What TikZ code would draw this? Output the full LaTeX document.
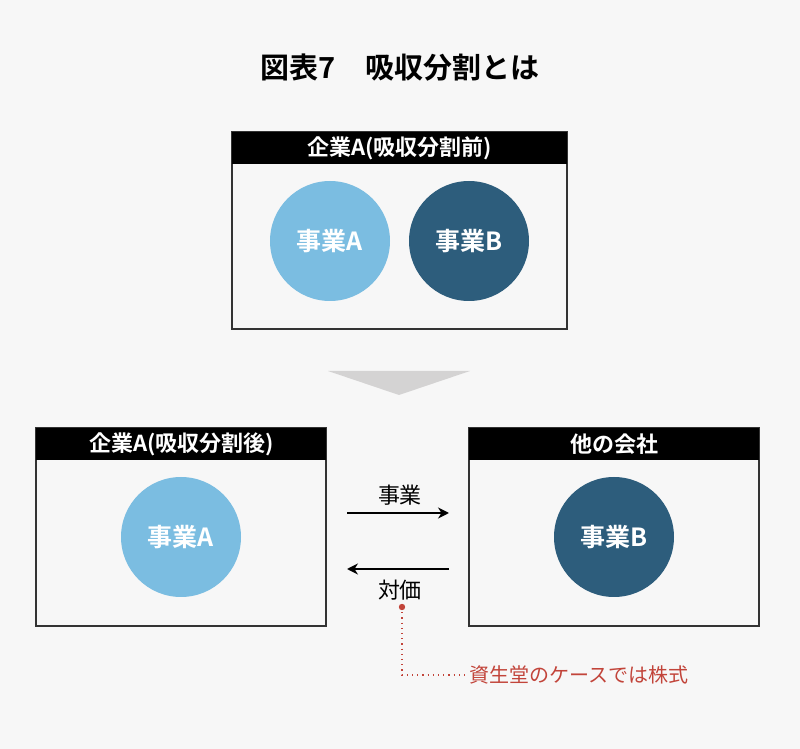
\documentclass[tikz,border=0pt]{standalone}
\usepackage{fontspec}
\setmainfont{Noto Sans CJK JP}[BoldFont={* Bold}]
\usetikzlibrary{arrows.meta}
\definecolor{bg}{HTML}{F7F7F7}
\definecolor{lblue}{HTML}{7BBDE1}
\definecolor{dblue}{HTML}{2D5D7C}
\definecolor{tri}{HTML}{D4D3D3}
\definecolor{note}{HTML}{C2443A}
\definecolor{frame}{HTML}{333333}
\tikzset{
  boxframe/.style={draw=frame, line width=0.8pt, fill=bg},
  header/.style={fill=black, text=white, font=\bfseries\fontsize{11}{13}\selectfont, inner sep=0pt, anchor=north west},
  biz/.style={circle, minimum size=60pt, inner sep=0pt, text=white, font=\bfseries\fontsize{12.5}{14}\selectfont},
  flow/.style={line width=1pt, -{Stealth[length=5.5pt,width=5.5pt]}},
  lbl/.style={font=\fontsize{11}{13}\selectfont, text=black},
}
\begin{document}
\begin{tikzpicture}[x=0.5pt,y=-0.5pt]
\fill[bg] (0,0) rectangle (800,749);
\useasboundingbox (0,0) rectangle (800,749);
% title
\node[font=\bfseries\fontsize{14.5}{16}\selectfont] (title) at (400,68) {図表7　吸収分割とは};
% top box
\draw[boxframe] (232,132) rectangle (567,329);
\node[header, minimum width=167.5pt, minimum height=16pt] (hTop) at (232,132) {企業A(吸収分割前)};
\node[biz, fill=lblue] (topA) at (330,241) {事業A};
\node[biz, fill=dblue] (topB) at (469,241) {事業B};
% triangle
\fill[tri] (328,371) -- (470,371) -- (399,395) -- cycle;
% left box
\draw[boxframe] (36,428) rectangle (326,626);
\node[header, minimum width=145pt, minimum height=16pt] (hLeft) at (36,428) {企業A(吸収分割後)};
\node[biz, fill=lblue] (botA) at (181,537) {事業A};
% right box
\draw[boxframe] (469,428) rectangle (759,626);
\node[header, minimum width=145pt, minimum height=16pt] (hRight) at (469,428) {他の会社};
\node[biz, fill=dblue] (botB) at (614,537) {事業B};
% arrows
\coordinate (a1s) at (347,513);
\coordinate (a1e) at (449,513);
\coordinate (a2s) at (449,569);
\coordinate (a2e) at (347,569);
\draw[flow] (a1s) -- (a1e);
\draw[flow] (a2s) -- (a2e);
\node[lbl] (lblBiz) at (400,495) {事業};
\node[lbl] (lblPay) at (400,590) {対価};
% note
\coordinate (dot) at (402,607);
\coordinate (corner) at (402,675);
\coordinate (nend) at (466,675);
\fill[note] (dot) circle (1.6pt);
\draw[note, line width=0.6pt, dotted] (dot) -- (corner) -- (nend);
\node[anchor=west, inner sep=0pt, text=note, font=\fontsize{10}{12}\selectfont] (noteTxt) at (469,675) {資生堂のケースでは株式};
\end{tikzpicture}
\end{document}
